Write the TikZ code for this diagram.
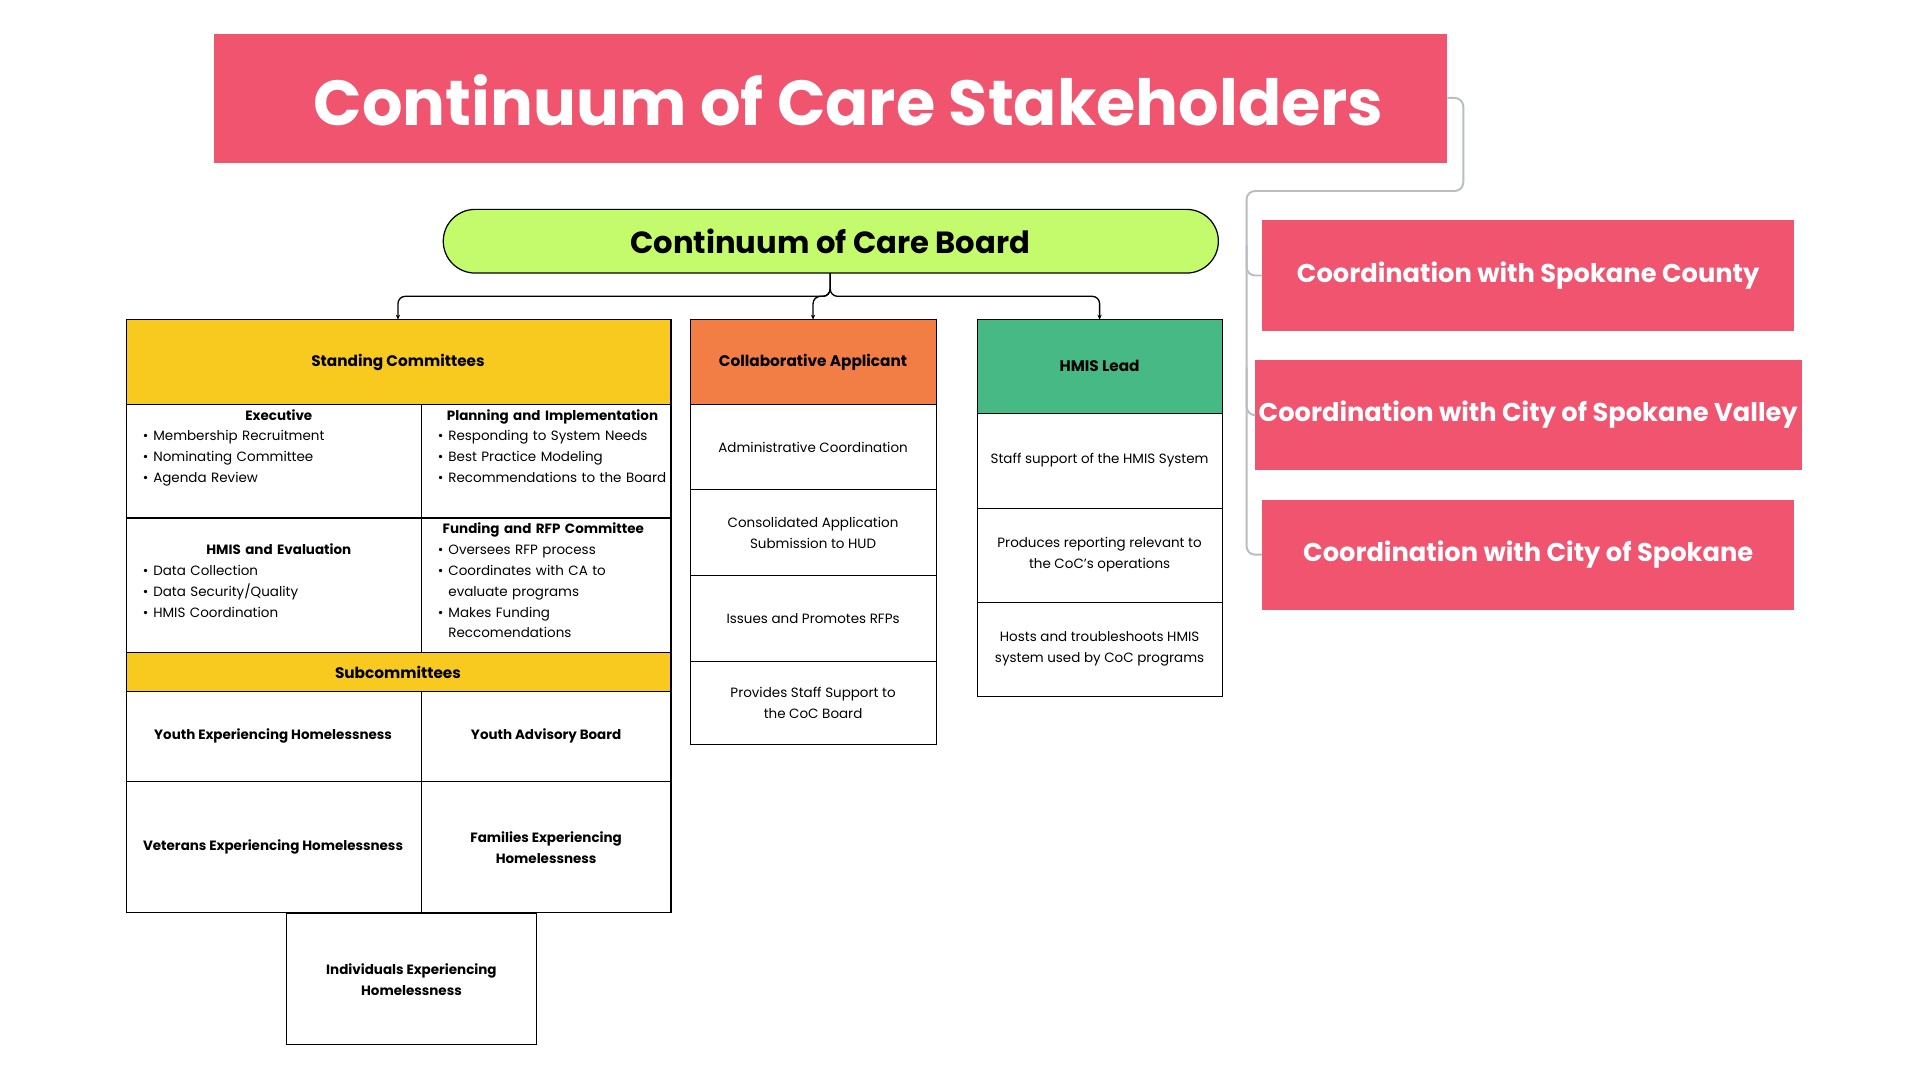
\documentclass[tikz,border=0pt]{standalone}
\usepackage{fontspec}
\setmainfont{Poppins}
\usepackage{enumitem}
\usetikzlibrary{arrows.meta}
\definecolor{pinkr}{HTML}{F0546F}
\definecolor{lime}{HTML}{C3FB6C}
\definecolor{gold}{HTML}{F8CA1F}
\definecolor{orng}{HTML}{F27E45}
\definecolor{grn}{HTML}{47B984}
\definecolor{gline}{HTML}{B8BEC2}
\newcommand{\bx}[2]{\fontsize{#1}{#2}\selectfont}
\tikzset{
 cell/.style={draw=black,line width=0.9pt},
 ctext/.style={align=center,font=\bx{11}{17}},
 htext/.style={align=center,font=\bx{12.5}{17}\bfseries},
 btext/.style={align=center,font=\bx{11}{17}\bfseries},
 conn/.style={line width=1.1pt,rounded corners=6pt,-{Stealth[length=4pt,width=3.5pt]}},
 gconn/.style={draw=gline,line width=1.6pt,rounded corners=7pt},
 pinkbox/.style={fill=pinkr,text=white,font=\bx{21}{24}\bfseries}
}
\begin{document}
\begin{tikzpicture}[x=1pt,y=-1pt]
\useasboundingbox[fill=white] (0,0) rectangle (1568,882);
% title
\fill[pinkr] (175,28) rectangle (1182,133);
\node[text=white,font=\bx{52}{56}\bfseries] (title) at (693,82) {Continuum of Care Stakeholders};
\coordinate (tr) at (1182,80);
% board
\draw[fill=lime,line width=1pt,rounded corners=26pt] (362,171) rectangle (995,223);
\node[font=\bx{25}{28}\bfseries] (board) at (678,197) {Continuum of Care Board};
\coordinate (bb) at (678,223);
% board connectors
\coordinate (sc) at (325,261);\coordinate (ca) at (664,261);\coordinate (hl) at (898,261);
\draw[conn] (bb) |- (325,242) -- (sc);
\draw[conn] (bb) |- (664,242) -- (ca);
\draw[conn] (bb) |- (898,242) -- (hl);
% standing committees
\fill[gold] (103,261) rectangle (548,330);
\fill[gold] (103,533) rectangle (548,565);
\draw[cell] (103,261) rectangle (548,745);
\draw[cell] (103,330) -- (548,330) (103,423) -- (548,423) (103,533)--(548,533) (103,565)--(548,565) (103,638)--(548,638);
\draw[cell] (344,330) -- (344,533) (344,565) -- (344,745);
\node[htext] (st) at (325,296) {Standing Committees};
\node[htext] (sub) at (325,549) {Subcommittees};
\setlist[itemize]{nosep,leftmargin=10pt,label=\textbullet,labelsep=4pt}
\node[anchor=north west,text width=225,font=\bx{11}{17},inner sep=0] (ex) at (115,334) {\centering\textbf{Executive}\par
\begin{itemize}\item Membership Recruitment\item Nominating Committee\item Agenda Review\end{itemize}};
\node[anchor=north west,text width=190,font=\bx{11}{17},inner sep=0] (pi) at (356,334) {\centering\textbf{Planning and Implementation}\par
\begin{itemize}\item Responding to System Needs\item Best Practice Modeling\item Recommendations to the Board\end{itemize}};
\node[anchor=north west,text width=225,font=\bx{11}{17},inner sep=0] (he) at (115,444) {\centering\textbf{HMIS and Evaluation}\par
\begin{itemize}\item Data Collection\item Data Security/Quality\item HMIS Coordination\end{itemize}};
\node[anchor=north west,text width=175,font=\bx{11}{17},inner sep=0] (fr) at (356,427) {\centering\textbf{Funding and RFP Committee}\par
\begin{itemize}\item Oversees RFP process\item Coordinates with CA to evaluate programs\item Makes Funding Reccomendations\end{itemize}};
\node[btext] (y1) at (223,601) {Youth Experiencing Homelessness};
\node[btext] (y2) at (446,601) {Youth Advisory Board};
\node[btext] (v1) at (223,692) {Veterans Experiencing Homelessness};
\node[btext] (f1) at (446,692) {Families Experiencing\\Homelessness};
\draw[cell] (234,746) rectangle (438,853);
\node[btext] (ind) at (336,800) {Individuals Experiencing\\Homelessness};
% collaborative applicant
\fill[orng] (564,261) rectangle (765,330);
\draw[cell] (564,261) rectangle (765,608);
\draw[cell] (564,330)--(765,330) (564,400)--(765,400) (564,470)--(765,470) (564,540)--(765,540);
\node[htext] (cah) at (664,296) {Collaborative Applicant};
\node[ctext] (c1) at (664,365) {Administrative Coordination};
\node[ctext] (c2) at (664,435) {Consolidated Application\\Submission to HUD};
\node[ctext] (c3) at (664,505) {Issues and Promotes RFPs};
\node[ctext] (c4) at (664,574) {Provides Staff Support to\\the CoC Board};
% HMIS lead
\fill[grn] (798,261) rectangle (998,338);
\draw[cell] (798,261) rectangle (998,569);
\draw[cell] (798,338)--(998,338) (798,415)--(998,415) (798,492)--(998,492);
\node[htext] (hh) at (898,299) {HMIS Lead};
\node[ctext] (h1) at (898,376) {Staff support of the HMIS System};
\node[ctext] (h2) at (898,453) {Produces reporting relevant to\\the CoC’s operations};
\node[ctext] (h3) at (898,530) {Hosts and troubleshoots HMIS\\system used by CoC programs};
% right boxes
\node[pinkbox,minimum width=434,minimum height=90] (r1) at (1248,225) {Coordination with Spokane County};
\node[pinkbox,minimum width=434,minimum height=90] (r2) at (1248,339) {Coordination with City of Spokane Valley};
\node[pinkbox,minimum width=434,minimum height=90] (r3) at (1248,453) {Coordination with City of Spokane};
\draw[gconn] (tr) -- (1195,80) -- (1195,156) -- (1018,156) -- (1018,453) -- (r3.west);
\draw[gconn] (1018,200) |- (r1.west);
\draw[gconn] (1018,300) |- (r2.west);
\end{tikzpicture}
\end{document}
